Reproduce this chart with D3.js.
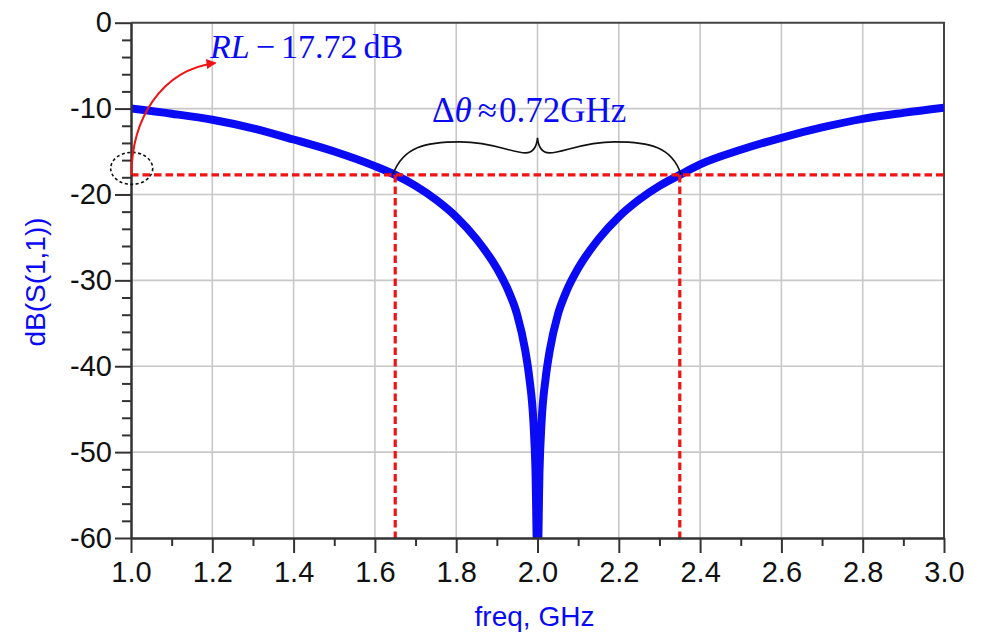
<!DOCTYPE html>
<html><head><meta charset="utf-8">
<script src="https://cdn.jsdelivr.net/npm/d3@7"></script>
<style>body{margin:0;background:#fff}</style>
</head><body>
<svg id="chart" width="985" height="640"></svg>
<script>
// ---- data ----
const freq = [1.0,1.1,1.2,1.3,1.4,1.5,1.6,1.65,1.7,1.75,1.8,1.85,1.9,1.93,1.95,1.97,1.98,1.99,1.995,2.0,
              2.005,2.01,2.02,2.03,2.05,2.07,2.1,2.15,2.2,2.25,2.3,2.35,2.4,2.5,2.6,2.7,2.8,2.9,3.0];
const s11 = [-10.0,-10.6,-11.3,-12.3,-13.6,-15.0,-16.7,-17.72,-19.0,-20.6,-22.6,-25.2,-28.6,-31.4,-34.0,-38.2,-41.4,-46.5,-52,-64,
             -52,-46.5,-41.4,-38.2,-34.0,-31.4,-28.6,-25.2,-22.6,-20.6,-19.0,-17.72,-16.5,-14.8,-13.4,-12.2,-11.2,-10.5,-9.9];
const xTicks = [1.0,1.2,1.4,1.6,1.8,2.0,2.2,2.4,2.6,2.8,3.0];
const xMinorTicks = [1.1,1.3,1.5,1.7,1.9,2.1,2.3,2.5,2.7,2.9];
const yTicks = [0,-10,-20,-30,-40,-50,-60];
const yMinorTicks = [-2,-4,-6,-8,-12,-14,-16,-18,-22,-24,-26,-28,-32,-34,-36,-38,-42,-44,-46,-48,-52,-54,-56,-58];
const rlLevel = -17.72;
const bandEdges = [1.65, 2.35];
const xTitle = "freq, GHz";
const yTitle = "dB(S(1,1))";

// ---- layout ----
const L = 131, R = 944, T = 22.7, B = 538;
const svg = d3.select("#chart");
const x = d3.scaleLinear().domain([1, 3]).range([L, R]);
const y = d3.scaleLinear().domain([-60, 0]).range([B, T]);
const sans = "'Liberation Sans', Arial, sans-serif";
const serif = "'Liberation Serif', 'Times New Roman', serif";
const blue = "#0a0af5";
const red = "#f01414";

svg.append("defs").append("clipPath").attr("id","clip")
  .append("rect").attr("x",L).attr("y",T).attr("width",R-L).attr("height",B-T);

// grid
svg.append("g").selectAll("line").data(xTicks.slice(1,-1)).join("line")
  .attr("x1",d=>x(d)).attr("x2",d=>x(d)).attr("y1",T).attr("y2",B)
  .attr("stroke","#c8c8c8").attr("stroke-width",1.6);
svg.append("g").selectAll("line").data(yTicks.slice(1,-1)).join("line")
  .attr("y1",d=>y(d)).attr("y2",d=>y(d)).attr("x1",L).attr("x2",R)
  .attr("stroke","#c8c8c8").attr("stroke-width",1.6);

// frame top/right
svg.append("path").attr("d",`M${L},${T}H${R}V${B}`).attr("fill","none")
  .attr("stroke","#444").attr("stroke-width",2);

// curve
const pts = freq.map((f,i)=>[f,s11[i]]);
svg.append("path").datum(pts).attr("clip-path","url(#clip)")
  .attr("d", d3.line().x(d=>x(d[0])).y(d=>y(d[1])).curve(d3.curveMonotoneX))
  .attr("fill","none").attr("stroke",blue).attr("stroke-width",8).attr("stroke-linejoin","round");

// red dashed lines
const yb = y(rlLevel);
svg.append("line").attr("x1",L).attr("x2",R).attr("y1",yb).attr("y2",yb)
  .attr("stroke",red).attr("stroke-width",3.2).attr("stroke-dasharray","7.5,4");
svg.append("g").selectAll("line").data(bandEdges).join("line")
  .attr("x1",d=>x(d)).attr("x2",d=>x(d)).attr("y1",yb).attr("y2",B)
  .attr("stroke",red).attr("stroke-width",3.2).attr("stroke-dasharray","7.5,4");

// axes
function styleAxis(g){
  g.select(".domain").attr("stroke","#333").attr("stroke-width",2);
  g.selectAll(".tick line").attr("stroke","#333").attr("stroke-width",2);
  g.selectAll("text").attr("fill","#111").style("font-family",sans).style("font-size","29px");
}
svg.append("g").attr("transform",`translate(${L},0)`)
  .call(d3.axisLeft(y).tickValues(yMinorTicks).tickSize(9).tickSizeOuter(0).tickFormat(""))
  .call(styleAxis);
svg.append("g").attr("transform",`translate(${L},0)`)
  .call(d3.axisLeft(y).tickValues(yTicks).tickSize(16).tickSizeOuter(0).tickPadding(3).tickFormat(d=>String(d)))
  .call(styleAxis);
svg.append("g").attr("transform",`translate(0,${B})`)
  .call(d3.axisBottom(x).tickValues(xMinorTicks).tickSize(8).tickSizeOuter(0).tickFormat(""))
  .call(styleAxis);
svg.append("g").attr("transform",`translate(0,${B})`)
  .call(d3.axisBottom(x).tickValues(xTicks).tickSize(15).tickSizeOuter(0).tickPadding(8).tickFormat(d3.format(".1f")))
  .call(styleAxis);

// titles
svg.append("text").attr("x",(L+R)/2-3).attr("y",626).attr("text-anchor","middle")
  .attr("fill",blue).style("font-family",sans).style("font-size","28px").text(xTitle);
svg.append("text").attr("transform","translate(45,282) rotate(-90)").attr("text-anchor","middle")
  .attr("fill",blue).style("font-family",sans).style("font-size","28px").text(yTitle);

// dotted ellipse
svg.append("ellipse").attr("cx",x(1)+0.7).attr("cy",yb-6.5).attr("rx",21).attr("ry",16)
  .attr("fill","none").attr("stroke","#111").attr("stroke-width",1.6).attr("stroke-dasharray","3,2.5");

// red arrow
svg.select("defs").append("marker").attr("id","ah").attr("viewBox","0 0 10 10")
  .attr("refX",9).attr("refY",5).attr("markerWidth",13).attr("markerHeight",10)
  .attr("markerUnits","userSpaceOnUse").attr("orient","auto")
  .append("path").attr("d","M0,0L10,5L0,10z").attr("fill",red);
const x0 = x(1)+0.5;
svg.append("path")
  .attr("d",`M${x0},${yb} C${x0},${yb-55} ${x0+29},${yb-105} ${x0+84},${yb-112}`)
  .attr("fill","none").attr("stroke",red).attr("stroke-width",2).attr("marker-end","url(#ah)");

// RL label
const rl = svg.append("text").attr("x",210).attr("y",58).attr("fill",blue)
  .style("font-family",serif).style("font-size","34px");
rl.append("tspan").style("font-style","italic").text("RL");
rl.append("tspan").attr("dx",6).text("\u2212");
rl.append("tspan").attr("dx",6).text("17.72");
rl.append("tspan").attr("dx",6).text("dB");

// brace
const xl = x(bandEdges[0]), xr = x(bandEdges[1]), mid = (xl+xr)/2;
const brace = `M${xl-2},${yb-1} C${xl+8},${yb-28} ${xl+30},${yb-33} ${xl+65},${yb-33}`
  + ` C${mid-45},${yb-33} ${mid-25},${yb-22} ${mid-12},${yb-22}`
  + ` C${mid-5},${yb-22} ${mid-1},${yb-27} ${mid},${yb-37}`
  + ` C${mid+1},${yb-27} ${mid+5},${yb-22} ${mid+12},${yb-22}`
  + ` C${mid+25},${yb-22} ${mid+45},${yb-33} ${xr-65},${yb-33}`
  + ` C${xr-30},${yb-33} ${xr-8},${yb-28} ${xr+1},${yb-1}`;
svg.append("path").attr("d",brace).attr("fill","none").attr("stroke","#111").attr("stroke-width",1.6);

// bandwidth label
const bw = svg.append("text").attr("x",432).attr("y",122).attr("fill",blue)
  .style("font-family",serif).style("font-size","35px");
bw.append("tspan").text("\u0394");
bw.append("tspan").style("font-style","italic").text("\u03b8");
bw.append("tspan").attr("dx",6).text("\u2248");
bw.append("tspan").attr("dx",2).text("0.72GHz");
</script>
</body></html>
